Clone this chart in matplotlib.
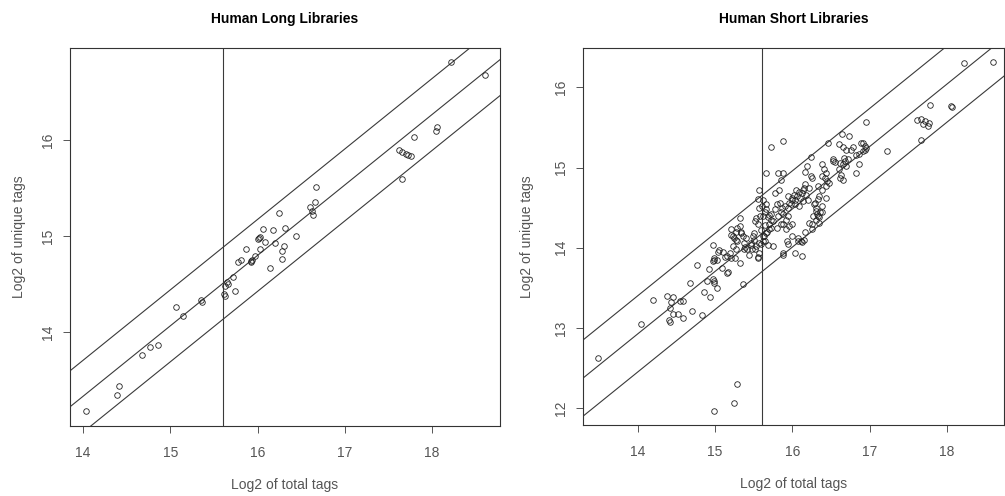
import matplotlib.pyplot as plt
import numpy as np

plt.rcParams['font.family'] = ['Liberation Sans', 'DejaVu Sans']

# log2 scatter data
long_x = [14.03, 14.39, 14.41, 14.68, 14.77, 14.86, 15.07, 15.15, 15.35, 15.36,
          15.62, 15.63, 15.63, 15.65, 15.66, 15.72, 15.74, 15.78, 15.81, 15.87,
          15.92, 15.93, 15.94, 15.97, 16.00, 16.02, 16.03, 16.03, 16.06, 16.08,
          16.14, 16.18, 16.20, 16.25, 16.28, 16.28, 16.30, 16.31, 16.44, 16.60,
          16.62, 16.64, 16.66, 16.67, 17.62, 17.66, 17.66, 17.70, 17.73, 17.76,
          17.79, 18.05, 18.06, 18.22, 18.61]
long_y = [13.18, 13.34, 13.44, 13.76, 13.84, 13.86, 14.26, 14.17, 14.33, 14.31,
          14.40, 14.37, 14.48, 14.52, 14.50, 14.57, 14.43, 14.73, 14.75, 14.86,
          14.74, 14.73, 14.75, 14.79, 14.97, 14.98, 14.99, 14.86, 15.07, 14.94,
          14.67, 15.06, 14.93, 15.24, 14.84, 14.76, 14.90, 15.08, 15.00, 15.30,
          15.26, 15.22, 15.36, 15.51, 15.90, 15.88, 15.59, 15.85, 15.84, 15.83,
          16.03, 16.09, 16.14, 16.81, 16.68]

short_xy = [
    (13.48, 12.63), (14.04, 13.05), (14.19, 13.35), (14.38, 13.40), (14.46, 13.39),
    (14.43, 13.32), (14.42, 13.25), (14.40, 13.10), (14.42, 13.07), (14.45, 13.17),
    (14.52, 13.17), (14.55, 13.33), (14.59, 13.34), (14.59, 13.12), (14.67, 13.56),
    (14.70, 13.21), (14.77, 13.79), (14.83, 13.16), (14.85, 13.45), (14.93, 13.39),
    (14.92, 13.74), (14.89, 13.59), (14.97, 14.03), (14.97, 13.83), (14.98, 13.85),
    (14.99, 13.87), (14.97, 13.61), (14.98, 13.58), (14.99, 13.56), (15.02, 13.50),
    (15.04, 13.95), (15.05, 13.97), (15.09, 13.75), (15.13, 13.89), (15.16, 13.90),
    (15.17, 13.70), (15.16, 13.68), (15.20, 13.87), (15.26, 13.87), (15.27, 13.99),
    (15.28, 14.08), (15.32, 13.81), (15.36, 13.55), (15.39, 14.01), (15.41, 13.99),
    (15.38, 13.98), (15.44, 13.91), (15.46, 14.04), (15.48, 13.98), (15.52, 13.98),
    (15.56, 13.88), (15.57, 14.06), (15.62, 14.08), (15.69, 14.04), (15.75, 14.02),
    (15.88, 13.93), (15.88, 13.91), (15.94, 14.05), (15.93, 14.08), (16.03, 13.93),
    (16.13, 13.90), (16.13, 14.07), (14.98, 11.97), (15.24, 12.07), (15.29, 12.30),
    (15.32, 14.37), (15.29, 14.25), (15.34, 14.18), (15.36, 14.14), (15.47, 14.06),
    (15.51, 14.10), (15.53, 14.02), (15.57, 13.93), (15.27, 14.10), (15.23, 14.02),
    (15.19, 13.93), (15.10, 13.95), (15.02, 13.85), (15.55, 13.87), (15.32, 14.27),
    (15.23, 14.14), (15.21, 14.23), (15.27, 14.19), (15.38, 14.06), (15.40, 14.12),
    (15.49, 14.14), (15.51, 14.18), (15.52, 14.33), (15.53, 14.37), (15.57, 14.50),
    (15.55, 14.61), (15.62, 14.59), (15.57, 14.72), (15.21, 14.16), (15.25, 14.12),
    (15.33, 14.20), (15.62, 14.14), (15.64, 14.08), (15.66, 14.18), (15.66, 14.48),
    (15.70, 14.41), (15.62, 14.39), (15.72, 14.35), (15.70, 14.23), (15.66, 14.93),
    (15.72, 15.25), (15.88, 15.33), (15.82, 14.93), (15.88, 14.93), (15.85, 14.84),
    (15.55, 14.30), (15.58, 14.40), (15.60, 14.22), (15.64, 14.45), (15.65, 14.28),
    (15.67, 14.20), (15.68, 14.38), (15.70, 14.30), (15.72, 14.25), (15.73, 14.42),
    (15.75, 14.33), (15.63, 14.15), (15.61, 14.52), (15.66, 14.55), (15.60, 14.05),
    (15.81, 14.39), (15.85, 14.45), (15.90, 14.52), (15.77, 14.48), (15.84, 14.56),
    (15.96, 14.56), (15.99, 14.60), (15.94, 14.50), (15.92, 14.23), (15.96, 14.27),
    (15.88, 14.29), (15.80, 14.25), (15.85, 14.30), (15.80, 14.55), (15.86, 14.50),
    (15.88, 14.42), (15.92, 14.35), (15.94, 14.65), (15.98, 14.55), (15.78, 14.68),
    (15.83, 14.72), (15.95, 14.40), (15.99, 14.30), (16.07, 14.12), (16.00, 14.14),
    (16.11, 14.09), (16.17, 14.20), (16.26, 14.23), (16.35, 14.31), (16.22, 14.31),
    (16.31, 14.35), (16.15, 14.10), (16.07, 14.08), (16.00, 14.62), (16.02, 14.66),
    (16.04, 14.60), (16.06, 14.64), (16.08, 14.70), (16.10, 14.62), (16.12, 14.68),
    (16.05, 14.72), (16.03, 14.55), (16.14, 14.58), (16.09, 14.52), (16.15, 14.75),
    (16.18, 14.66), (16.20, 14.60), (16.28, 14.55), (16.30, 14.50), (16.31, 14.46),
    (16.32, 14.42), (16.33, 14.40), (16.34, 14.38), (16.36, 14.44), (16.38, 14.52),
    (16.27, 14.40), (16.25, 14.30), (16.33, 14.77), (16.38, 14.72), (16.35, 14.65),
    (16.33, 14.61), (16.29, 14.56), (16.17, 14.80), (16.21, 14.75), (16.14, 14.72),
    (16.43, 14.62), (16.39, 14.45), (16.39, 15.04), (16.41, 14.98), (16.43, 14.93),
    (16.38, 14.89), (16.42, 14.87), (16.45, 14.83), (16.48, 14.81), (16.43, 14.77),
    (16.53, 15.10), (16.24, 15.13), (16.19, 15.02), (16.17, 14.94), (16.24, 14.89),
    (16.26, 14.87), (16.46, 15.30), (16.52, 15.08), (16.55, 15.07), (16.65, 15.04),
    (16.68, 15.08), (16.70, 15.02), (16.72, 15.10), (16.67, 15.12), (16.62, 15.06),
    (16.86, 15.04), (16.82, 14.93), (16.61, 14.98), (16.63, 14.91), (16.62, 14.87),
    (16.65, 14.85), (16.61, 15.29), (16.65, 15.26), (16.70, 15.22), (16.76, 15.22),
    (16.79, 15.25), (16.89, 15.31), (16.92, 15.30), (16.94, 15.27), (16.96, 15.24),
    (16.94, 15.22), (16.91, 15.20), (16.86, 15.17), (16.83, 15.16), (16.64, 15.42),
    (16.73, 15.39), (16.96, 15.57), (17.22, 15.20), (17.62, 15.59), (17.67, 15.60),
    (17.72, 15.58), (17.77, 15.55), (17.69, 15.54), (17.75, 15.52), (17.66, 15.34),
    (17.78, 15.78), (18.06, 15.77), (18.07, 15.75), (18.22, 16.30), (18.60, 16.31),
]
short_x = [p[0] for p in short_xy]
short_y = [p[1] for p in short_xy]

# fitted line (intercept, slope) and band half-width, cutoff at log2(50000)
long_fit = (3.054, 0.734, 0.375)
short_fit = (2.035, 0.778, 0.475)
cutoff = np.log2(50000)

titles = ['Human Long Libraries', 'Human Short Libraries']
long_ticks = ([14, 15, 16, 17, 18], [14, 15, 16])
short_ticks = ([14, 15, 16, 17, 18], [12, 13, 14, 15, 16])

fig = plt.figure(figsize=(10.05, 4.96), dpi=100)
ax1 = fig.add_axes([70 / 1005, 70 / 496, 430 / 1005, 378 / 496])
ax2 = fig.add_axes([583 / 1005, 71 / 496, 421 / 1005, 377 / 496])

panels = [
    (ax1, long_x, long_y, long_fit, (13.85, 18.78), (13.02, 16.96), long_ticks, titles[0], -0.102),
    (ax2, short_x, short_y, short_fit, (13.29, 18.74), (11.79, 16.49), short_ticks, titles[1], -0.116),
]

for ax, xs, ys, fit, xl, yl, ticks, title, ylab_x in panels:
    a, b, w = fit
    ax.set_xlim(*xl)
    ax.set_ylim(*yl)
    lx = np.array(xl)
    for off in (-w, 0, w):
        ax.plot(lx, a + b * lx + off, color='#3a3a3a', lw=0.8)
    ax.axvline(cutoff, color='#3a3a3a', lw=0.8)
    ax.plot(xs, ys, 'o', ms=4, mfc='none', mec='#222222', mew=0.6)

    ax.set_xticks(ticks[0])
    ax.set_yticks(ticks[1])
    ax.tick_params(direction='out', length=5, width=0.7, color='#555555',
                   labelsize=10, labelcolor='#555555')
    ax.tick_params(axis='x', pad=9.5)
    ax.tick_params(axis='y', pad=6)
    for lab in ax.get_yticklabels():
        lab.set_rotation(90)
        lab.set_va('center')
    for s in ax.spines.values():
        s.set_linewidth(0.8)
        s.set_color('#333333')
    ax.set_title(title, fontsize=10, fontweight='bold', pad=18)
    ax.set_xlabel('Log2 of total tags', fontsize=10, color='#555555')
    ax.set_ylabel('Log2 of unique tags', fontsize=10, color='#555555')
    ax.xaxis.set_label_coords(0.5, -0.138)
    ax.yaxis.set_label_coords(ylab_x, 0.5)

fig.savefig('out.png', dpi=100)
